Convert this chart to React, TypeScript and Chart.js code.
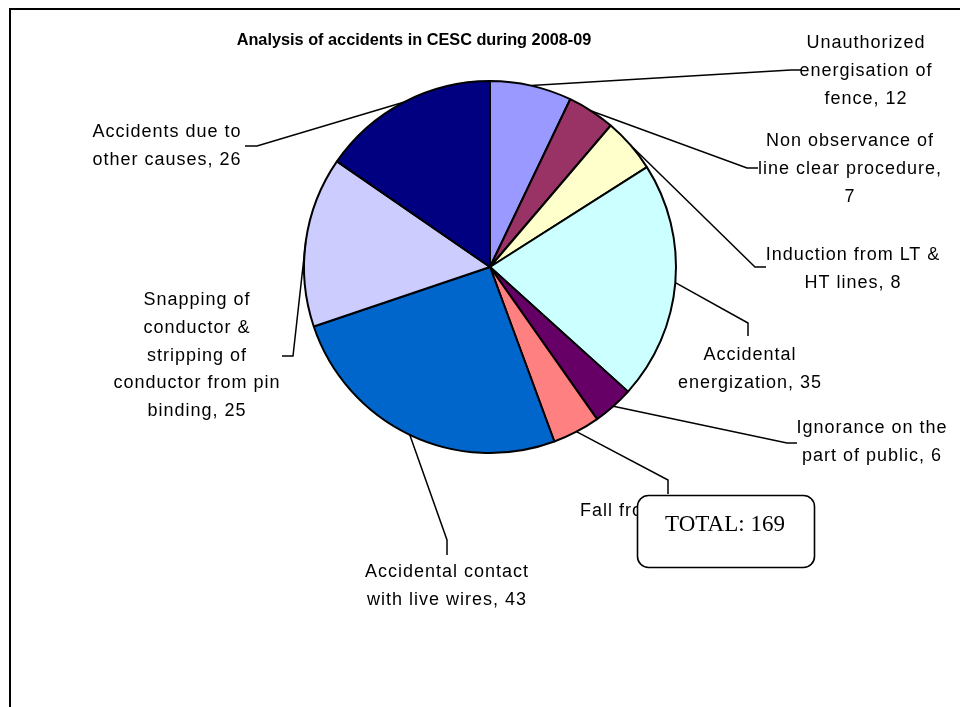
import React, { useEffect, useRef } from "react";
import { Chart, registerables } from "chart.js";

Chart.register(...registerables);

// ---- data ----
const TITLE = "Analysis of accidents in CESC during 2008-09";
const CATEGORIES = [
  "Unauthorized\nenergisation of\nfence",
  "Non observance of\nline clear procedure",
  "Induction from LT &\nHT lines",
  "Accidental\nenergization",
  "Ignorance on the\npart of public",
  "Fall from height",
  "Accidental contact\nwith live wires",
  "Snapping of\nconductor &\nstripping of\nconductor from pin\nbinding",
  "Accidents due to\nother causes",
];
const VALUES = [12, 7, 8, 35, 6, 7, 43, 25, 26];
const COLORS = [
  "#9999FF",
  "#993366",
  "#FFFFCC",
  "#CCFFFF",
  "#660066",
  "#FF8080",
  "#0066CC",
  "#CCCCFF",
  "#000080",
];
const TOTAL_LABEL = "TOTAL: ";

// ---- layout (label positions, leader elbows) ----
type LabelLayout = {
  elbow: [number, number];
  end: [number, number];
  tx: number;
  ty: number;
  align: CanvasTextAlign;
  sep: string;
};
const LAYOUT: LabelLayout[] = [
  { elbow: [791, 70], end: [801, 70], tx: 866, ty: 43, align: "center", sep: ", " },
  { elbow: [747, 168], end: [758, 168], tx: 850, ty: 141, align: "center", sep: ",\n" },
  { elbow: [755, 267], end: [766, 267], tx: 853, ty: 255, align: "center", sep: ", " },
  { elbow: [748, 323], end: [748, 336], tx: 750, ty: 355, align: "center", sep: ", " },
  { elbow: [787, 443], end: [797, 443], tx: 872, ty: 428, align: "center", sep: ", " },
  { elbow: [668, 480], end: [668, 494], tx: 580, ty: 511, align: "left", sep: ", " },
  { elbow: [447, 540], end: [447, 555], tx: 447, ty: 572, align: "center", sep: ", " },
  { elbow: [293, 356], end: [282, 356], tx: 197, ty: 300, align: "center", sep: ", " },
  { elbow: [257, 146], end: [245, 146], tx: 167, ty: 132, align: "center", sep: ", " },
];
const LINE_H = 27.8;
const SANS = "'Liberation Sans', Arial, sans-serif";
const SERIF = "'Liberation Serif', 'Times New Roman', serif";

const overlayPlugin = {
  id: "overlay",
  afterDraw(chart: any) {
    const ctx: CanvasRenderingContext2D = chart.ctx;
    const meta = chart.getDatasetMeta(0);
    ctx.save();

    // frame
    ctx.strokeStyle = "#000";
    ctx.lineWidth = 2;
    ctx.beginPath();
    ctx.moveTo(10, 707);
    ctx.lineTo(10, 9);
    ctx.lineTo(960, 9);
    ctx.stroke();

    // title
    ctx.fillStyle = "#000";
    ctx.font = `bold 16.3px ${SANS}`;
    ctx.textAlign = "center";
    ctx.textBaseline = "middle";
    ctx.fillText(TITLE, 414, 41);

    // leader lines
    ctx.lineWidth = 1.5;
    meta.data.forEach((arc: any, i: number) => {
      const p = arc.getProps(["x", "y", "startAngle", "endAngle", "outerRadius"], true);
      const mid = (p.startAngle + p.endAngle) / 2;
      const L = LAYOUT[i];
      ctx.beginPath();
      ctx.moveTo(p.x + Math.cos(mid) * p.outerRadius, p.y + Math.sin(mid) * p.outerRadius);
      ctx.lineTo(L.elbow[0], L.elbow[1]);
      ctx.lineTo(L.end[0], L.end[1]);
      ctx.stroke();
    });

    // labels
    ctx.font = `18px ${SANS}`;
    (ctx as any).letterSpacing = "1px";
    CATEGORIES.forEach((cat, i) => {
      const L = LAYOUT[i];
      const lines = (cat + L.sep + VALUES[i]).split("\n");
      ctx.textAlign = L.align;
      lines.forEach((ln, k) => {
        ctx.fillText(ln, L.tx, L.ty + k * LINE_H);
      });
    });

    // total box
    const total = VALUES.reduce((a, b) => a + b, 0);
    ctx.beginPath();
    (ctx as any).roundRect(637.5, 495.5, 177, 72, 11);
    ctx.fillStyle = "#fff";
    ctx.fill();
    ctx.lineWidth = 1.6;
    ctx.strokeStyle = "#000";
    ctx.stroke();
    (ctx as any).letterSpacing = "0px";
    ctx.fillStyle = "#000";
    ctx.font = `23px ${SERIF}`;
    ctx.textAlign = "center";
    ctx.textBaseline = "alphabetic";
    ctx.fillText(TOTAL_LABEL + total, 725, 531);

    ctx.restore();
  },
};

export default function App() {
  const ref = useRef<HTMLCanvasElement | null>(null);
  useEffect(() => {
    if (!ref.current) return;
    const chart = new Chart(ref.current, {
      type: "pie",
      data: {
        labels: CATEGORIES.map((c) => c.replace(/\n/g, " ")),
        datasets: [
          {
            data: VALUES,
            backgroundColor: COLORS,
            borderColor: "#000",
            borderWidth: 2,
            hoverOffset: 0,
          },
        ],
      },
      options: {
        responsive: false,
        animation: false,
        layout: { padding: { left: 303, right: 283, top: 79, bottom: 252 } },
        plugins: {
          legend: { display: false },
          title: { display: false },
          tooltip: { enabled: false },
        },
        events: [],
      },
      plugins: [overlayPlugin],
    });
    return () => chart.destroy();
  }, []);
  return (
    <div style={{ position: "absolute", left: 0, top: 0, width: 960, height: 707, background: "#fff" }}>
      <canvas ref={ref} width={960} height={707} style={{ display: "block" }} />
    </div>
  );
}
